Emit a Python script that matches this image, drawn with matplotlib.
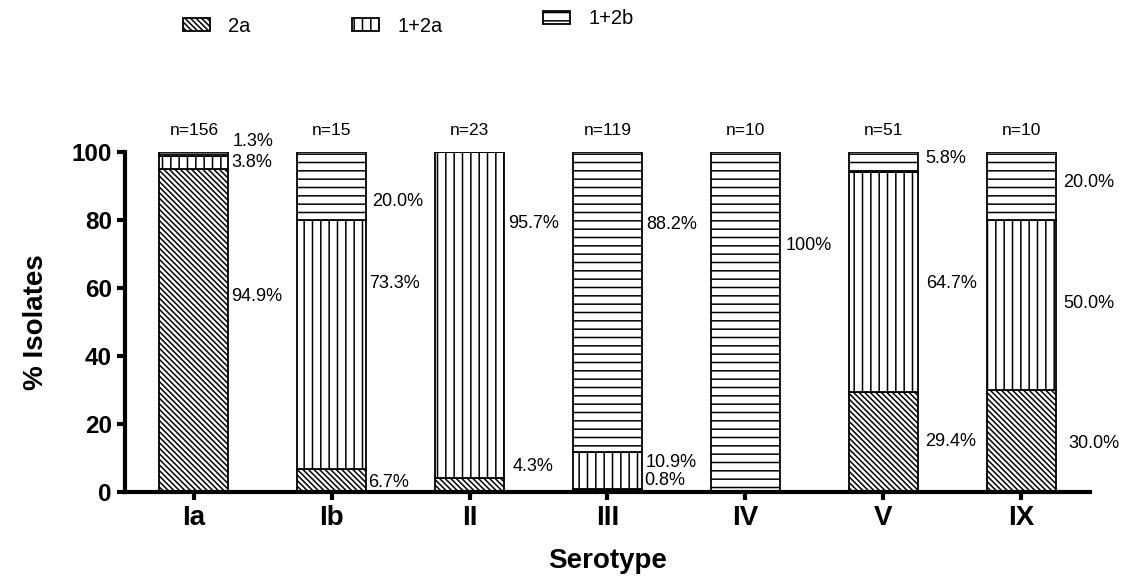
import numpy as np
import matplotlib.pyplot as plt
import matplotlib as mpl
from matplotlib.patches import Patch

mpl.rcParams['font.family'] = 'Liberation Sans'
mpl.rcParams['hatch.linewidth'] = 1.1

serotypes = ['Ia', 'Ib', 'II', 'III', 'IV', 'V', 'IX']
n_isolates = [156, 15, 23, 119, 10, 51, 10]
pct_2a = [94.9, 6.7, 4.3, 0.8, 0.0, 29.4, 30.0]
pct_1_2a = [3.8, 73.3, 95.7, 10.9, 0.0, 64.7, 50.0]
pct_1_2b = [1.3, 20.0, 0.0, 88.2, 100.0, 5.8, 20.0]

# where each percentage label sits: (series, y in data units, x offset in px)
label_pos = [
    [('1+2b', 103.2, 4), ('1+2a', 97.0, 3), ('2a', 57.6, 3)],
    [('1+2b', 85.3, 6), ('1+2a', 61.2, 3), ('2a', 2.9, 2)],
    [('1+2a', 79.1, 4), ('2a', 7.6, 9)],
    [('1+2b', 78.8, 4), ('1+2a', 8.8, 4), ('2a', 3.5, 2)],
    [('1+2b', 72.4, 6)],
    [('1+2b', 98.2, 8), ('1+2a', 61.2, 8), ('2a', 15.0, 7)],
    [('1+2b', 90.9, 8), ('1+2a', 55.6, 8), ('2a', 14.4, 13)],
]

series = {'2a': pct_2a, '1+2a': pct_1_2a, '1+2b': pct_1_2b}
hatches = {'2a': '\\' * 6, '1+2a': '||', '1+2b': '--'}

fig = plt.figure(figsize=(11.26, 5.79), dpi=100)
ax = fig.add_axes([0.111, 0.150, 0.857, 0.5875])

x = np.arange(len(serotypes))
width = 0.5
bottom = np.zeros(len(serotypes))
for name, vals in series.items():
    vals = np.array(vals)
    ax.bar(x, vals, width, bottom=bottom, color='white', edgecolor='black',
           linewidth=1.3, hatch=hatches[name])
    bottom += vals

# value labels
for i, labs in enumerate(label_pos):
    for name, ypos, dx in labs:
        v = series[name][i]
        txt = '100%' if v == 100 else f'{v:.1f}%'
        ax.annotate(txt, (x[i] + width / 2, ypos), xytext=(dx * 0.72, 0),
                    textcoords='offset points', ha='left', va='center',
                    fontsize=13, annotation_clip=False)
    ax.text(x[i], 106.2, f'n={n_isolates[i]}', ha='center', va='center',
            fontsize=12.5)

ax.set_xlim(-0.5, 6.5)
ax.set_ylim(0, 100)
ax.set_yticks([0, 20, 40, 60, 80, 100])
ax.set_xticks(x)
ax.set_xticklabels(serotypes)
for s in ['top', 'right']:
    ax.spines[s].set_visible(False)
for s in ['left', 'bottom']:
    ax.spines[s].set_linewidth(3)
ax.tick_params(axis='both', width=3, length=6, direction='out')
for lab in ax.get_yticklabels():
    lab.set_fontsize(17.5)
    lab.set_fontweight('bold')
for lab in ax.get_xticklabels():
    lab.set_fontsize(20)
    lab.set_fontweight('bold')
ax.set_ylabel('% Isolates', fontsize=20, fontweight='bold', labelpad=16)
ax.set_xlabel('Serotype', fontsize=20, fontweight='bold', labelpad=12)

# legend entries spread across the top
legend_spots = [('2a', 183, 26), ('1+2a', 352, 26), ('1+2b', 543, 19)]
W, H = 1126, 579
for name, px, py in legend_spots:
    h = Patch(facecolor='white', edgecolor='black', hatch=hatches[name],
              linewidth=1.3)
    fig.legend([h], [name], loc='center left',
               bbox_to_anchor=(px / W, 1 - py / H), frameon=False,
               fontsize=14.5, handlelength=1.35, handleheight=0.6,
               handletextpad=0.9, borderpad=0, borderaxespad=0)

fig.savefig('out.png', dpi=100)
